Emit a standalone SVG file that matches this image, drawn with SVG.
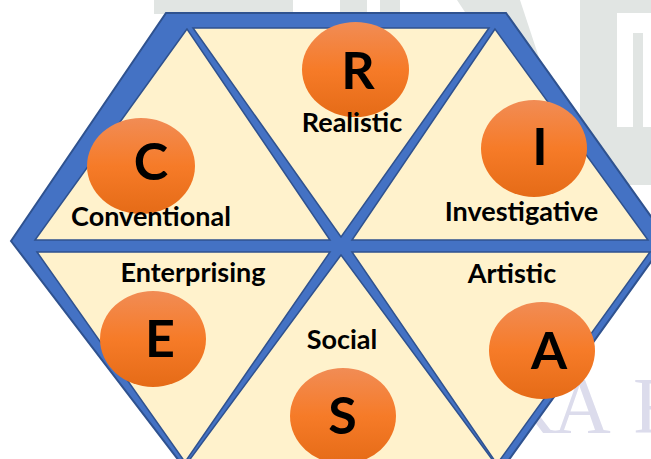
<svg xmlns="http://www.w3.org/2000/svg" width="651" height="459" viewBox="0 0 651 459">
  <defs>
    <linearGradient id="orange" x1="0" y1="0" x2="0" y2="1">
      <stop offset="0" stop-color="#F18C55"/>
      <stop offset="0.5" stop-color="#F67B28"/>
      <stop offset="1" stop-color="#E56B17"/>
    </linearGradient>
    <style>
      .wm { fill: #E1E5E3; }
      .wmtext { fill: #DCDCEC; font-family: "Liberation Serif", serif; font-size: 80px; }
      .frame { fill: #4472C4; stroke: #2F528F; stroke-width: 2; stroke-linejoin: miter; }
      .tri { fill: #FFF2CC; stroke: #2F528F; stroke-width: 1.5; stroke-linejoin: miter; }
      .disc { fill: url(#orange); }
      .letter { font-family: Lato, "Liberation Sans", sans-serif; font-weight: 700; font-size: 52px; fill: #000; text-anchor: middle; }
      .label { font-family: Lato, "Liberation Sans", sans-serif; font-weight: 700; font-size: 27px; fill: #000; text-anchor: middle; }
    </style>
  </defs>
  <rect x="0" y="0" width="651" height="459" fill="#FFFFFF"/>
  <g id="watermark">
    <rect class="wm" x="154" y="0" width="139" height="14"/>
    <rect class="wm" x="340" y="0" width="27" height="14"/>
    <rect class="wm" x="380" y="0" width="20" height="14"/>
    <polygon class="wm" points="457,0 520,0 553,100 523,100"/>
    <rect class="wm" x="580" y="0" width="37" height="157"/>
    <rect class="wm" x="580" y="0" width="71" height="13"/>
    <rect class="wm" x="593" y="127" width="58" height="30"/>
    <rect class="wm" x="633" y="33" width="10" height="100"/>
    <polygon class="wm" points="600,157 651,157 651,185 625,185"/>
    <text class="wmtext" x="499 553 633" y="433">KAR</text>
  </g>
  <g id="frame">
    <polygon class="frame" points="11,241 166,13 506,13 672,246 658,252 503,468 186,470"/>
  </g>
  <g id="connectors"/>
  <g id="node-R">
    <polygon class="tri" points="193,28 489,28 341,237"/>
    <ellipse class="disc" cx="355.5" cy="69.5" rx="53.5" ry="47.5"/>
    <text class="letter" x="358" y="89">R</text>
    <text class="label" x="352" y="132">Realistic</text>
  </g>
  <g id="node-C">
    <polygon class="tri" points="187,29 35,240 330,240"/>
    <ellipse class="disc" cx="141" cy="166" rx="54" ry="48"/>
    <text class="letter" x="151" y="180">C</text>
    <text class="label" x="151" y="226">Conventional</text>
  </g>
  <g id="node-I">
    <polygon class="tri" points="495,29 352,240 648,240"/>
    <ellipse class="disc" cx="534" cy="148.5" rx="53" ry="48.5"/>
    <text class="letter" x="540" y="165">I</text>
    <text class="label" x="521.5" y="221">Investigative</text>
  </g>
  <g id="node-E">
    <polygon class="tri" points="37,252 330,252 185,462"/>
    <ellipse class="disc" cx="153" cy="339" rx="53" ry="48"/>
    <text class="letter" x="160" y="357">E</text>
    <text class="label" x="193" y="282">Enterprising</text>
  </g>
  <g id="node-S">
    <polygon class="tri" points="341,255 188,462 494,462"/>
    <ellipse class="disc" cx="343" cy="416" rx="53" ry="48"/>
    <text class="letter" x="342.5" y="434">S</text>
    <text class="label" x="342" y="349">Social</text>
  </g>
  <g id="node-A">
    <polygon class="tri" points="352,252 650,252 497,464"/>
    <ellipse class="disc" cx="542" cy="350.5" rx="53" ry="48.5"/>
    <text class="letter" x="549" y="369">A</text>
    <text class="label" x="512" y="283">Artistic</text>
  </g>
</svg>
